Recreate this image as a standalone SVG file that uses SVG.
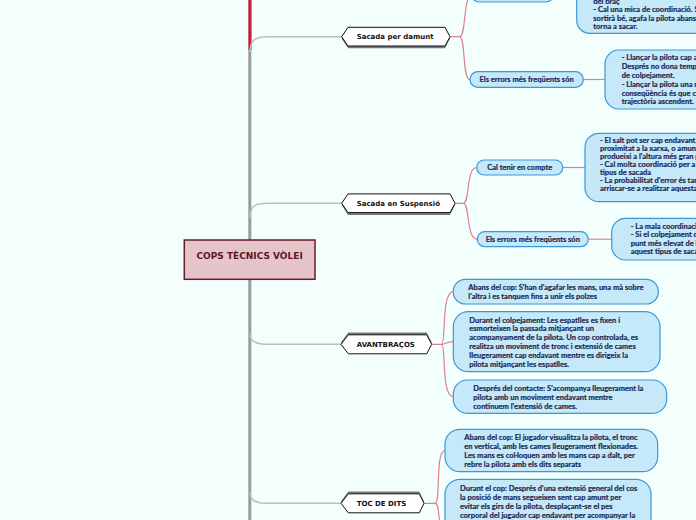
<svg xmlns="http://www.w3.org/2000/svg" width="696" height="520" viewBox="0 0 696 520">
<style>
.bg{fill:#F2FFFD}
.trunk{fill:none;stroke:#9A9A9A;stroke-width:3}
.br{fill:none;stroke:#BDBDBD;stroke-width:1.4}
.rc{fill:none;stroke:#E3808E;stroke-width:1.2}
.hexs{fill:#7A7A7A}
.hex{fill:#FFFFFF;stroke:#111;stroke-width:1}
.ht{font-family:"DejaVu Sans",Verdana,sans-serif;font-weight:bold;font-size:7px;fill:#111}
.pill{fill:#C6E9FA;stroke:#3B97D8;stroke-width:1.2}
.t{font-family:Lato,"Open Sans",sans-serif;font-weight:700;font-size:7.5px;fill:#1D2B53;stroke:#1D2B53;stroke-width:0.22}
</style>
<rect class="bg" x="0" y="0" width="696" height="520"/>
<g id="connectors">
<line x1="249.8" y1="0" x2="249.8" y2="520" class="trunk"/>
<line x1="250" y1="0" x2="250" y2="50" stroke="#D3173C" stroke-width="3"/>
<path class="br" d="M250,52 C250,40 255,36.7 268,36.7 L342,36.7"/>
<path class="br" d="M250,218 C250,206 255,203.3 268,203.3 L342,203.3"/>
<path class="br" d="M250,333 C250,341 255,344.3 268,344.3 L341,344.3"/>
<path class="br" d="M250,492 C250,500 255,503.3 268,503.3 L341,503.3"/>
<path class="rc" d="M450,36.7 L459.3,36.7 C466,36.7 463,5 470,-6"/>
<path class="rc" d="M459.3,36.7 C466,36.7 462,79.5 470,79.5"/>
<path class="rc" d="M583.3,79.5 L605,79.5"/>
<path class="rc" d="M455,203.3 L463.3,203.3 C470,203.3 466,167.5 476.7,167.5"/>
<path class="rc" d="M463.3,203.3 C470,203.3 466,239.2 477.3,239.2"/>
<path class="rc" d="M562.7,167.5 L585,167.5"/>
<path class="rc" d="M588.3,239.2 L611.7,239.2"/>
<path class="rc" d="M431.7,344.3 L441.7,344.3 C446,344.3 441,291.7 453.3,291.7"/>
<path class="rc" d="M441.7,344.3 C446,344.3 446,341.7 453.3,341.7"/>
<path class="rc" d="M441.7,344.3 C446,344.3 441,396.7 453.3,396.7"/>
<path class="rc" d="M424,503.3 L435,503.3 C441,503.3 435,450.5 445,450.5"/>
<path class="rc" d="M435,503.3 C441,503.3 436,528 445,528"/>
</g>
<g id="main">
<rect x="184.3" y="240" width="130.7" height="39.3" fill="#E5C5CA" stroke="#6A1B2A" stroke-width="1.5"/>
<text x="249.6" y="259" text-anchor="middle" font-family="'DejaVu Sans',Verdana,sans-serif" font-weight="bold" font-size="9" fill="#5E1626">COPS TÈCNICS VÒLEI</text>
</g>
<g id="sacada-damunt">
<polygon class="hexs" points="341.7,38.7 348,29.3 445,29.3 450,38.7 445,48.3 348,48.3"/>
<polygon class="hex" points="341.7,36.7 348,27.3 445,27.3 450,36.7 445,46 348,46"/>
<text class="ht" x="356.7" y="39.3">Sacada per damunt</text>
</g>
<g id="sacada-suspensio">
<polygon class="hexs" points="341.7,205.3 348,195.9 450,195.9 455,205.3 450,214.9 348,214.9"/>
<polygon class="hex" points="341.7,203.3 348,193.9 450,193.9 455,203.3 450,212.6 348,212.6"/>
<text class="ht" x="356.7" y="205.9">Sacada en Suspensió</text>
</g>
<g id="avantbracos">
<polygon class="hexs" points="341,342.3 348.3,332.6 426.7,332.6 431.7,342.3 426.7,351.8 348.3,351.8"/>
<polygon class="hex" points="341,344.3 348.3,334.8 426.7,334.8 431.7,344.3 426.7,353.8 348.3,353.8"/>
<text class="ht" x="356.7" y="346.9">AVANTBRAÇOS</text>
</g>
<g id="toc-de-dits">
<polygon class="hexs" points="341,501.3 348.3,491.6 419.3,491.6 424,501.3 419.3,510.8 348.3,510.8"/>
<polygon class="hex" points="341,503.3 348.3,493.8 419.3,493.8 424,503.3 419.3,512.8 348.3,512.8"/>
<text class="ht" x="356.7" y="505.9">TOC DE DITS</text>
</g>
<g id="top-pill">
<rect class="pill" x="471.7" y="-13" width="81.6" height="15" rx="7.5"/>
</g>
<g id="top-box">
<rect class="pill" x="576.7" y="-40" width="200" height="73.3" rx="13"/>
<text class="t" x="593.3" y="3.5">del braç</text>
<text class="t" x="593.3" y="12.4">- Cal una mica de coordinació. S</text>
<text class="t" x="593.3" y="20.9">sortirà bé, agafa la pilota abans s</text>
<text class="t" x="593.3" y="29.3">torna a sacar.</text>
</g>
<g id="errors-damunt">
<rect class="pill" x="470" y="71.7" width="113.3" height="15.6" rx="7.8"/>
<text class="t" x="526.6" y="82.1" text-anchor="middle">Els errors més freqüents són</text>
</g>
<g id="errors-damunt-box">
<rect class="pill" x="605" y="50" width="150" height="59" rx="14"/>
<text class="t" x="621.7" y="60.4">- Llançar la pilota cap a</text>
<text class="t" x="621.7" y="69.2">Després no dona temps</text>
<text class="t" x="621.7" y="78">de colpejament.</text>
<text class="t" x="621.7" y="86.8">- Llançar la pilota una m</text>
<text class="t" x="621.7" y="95.6">conseqüència és que c</text>
<text class="t" x="621.7" y="104.4">trajectòria ascendent.</text>
</g>
<g id="cal-tenir">
<rect class="pill" x="476.7" y="160" width="86" height="15" rx="7.5"/>
<text class="t" x="519.7" y="170.1" text-anchor="middle">Cal tenir en compte</text>
</g>
<g id="cal-tenir-box">
<rect class="pill" x="585" y="133.3" width="150" height="68.4" rx="14"/>
<text class="t" x="600" y="143.2">- El salt pot ser cap endavant,</text>
<text class="t" x="600" y="151.2">proximitat a la xarxa, o amun</text>
<text class="t" x="600" y="159.2">produeixi a l'altura més gran p</text>
<text class="t" x="600" y="167.2">- Cal molta coordinació per a e</text>
<text class="t" x="600" y="175.2">tipus de sacada</text>
<text class="t" x="600" y="183.2">- La probabilitat d'error és tan</text>
<text class="t" x="600" y="191.2">arriscar-se a realitzar aquesta</text>
</g>
<g id="errors-suspensio">
<rect class="pill" x="477.3" y="231.7" width="111" height="15" rx="7.5"/>
<text class="t" x="532.8" y="241.8" text-anchor="middle">Els errors més freqüents són</text>
</g>
<g id="errors-suspensio-box">
<rect class="pill" x="611.7" y="218.3" width="120" height="41.7" rx="14"/>
<text class="t" x="630.7" y="228.6">- La mala coordinaci</text>
<text class="t" x="630.7" y="237.2">- Si el colpejament d</text>
<text class="t" x="630.7" y="245.8">punt més elevat de l</text>
<text class="t" x="630.7" y="254.4">aquest tipus de saca</text>
</g>
<g id="avant-abans">
<rect class="pill" x="453.3" y="279.3" width="205" height="24.7" rx="12"/>
<text class="t" x="468.3" y="290.2">Abans del cop: S'han d'agafar les mans, una mà sobre</text>
<text class="t" x="468.3" y="299.2">l'altra i es tanquen fins a unir els polzes</text>
</g>
<g id="avant-durant">
<rect class="pill" x="453.3" y="311.7" width="206.7" height="60" rx="15"/>
<text class="t" x="469.3" y="322.5">Durant el colpejament: Les espatlles es fixen i</text>
<text class="t" x="469.3" y="331.4">esmorteixen la passada mitjançant un</text>
<text class="t" x="469.3" y="340.3">acompanyament de la pilota. Un cop controlada, es</text>
<text class="t" x="469.3" y="349.2">realitza un moviment de tronc i extensió de cames</text>
<text class="t" x="469.3" y="358.1">lleugerament cap endavant mentre es dirigeix la</text>
<text class="t" x="469.3" y="367">pilota mitjançant les espatlles.</text>
</g>
<g id="avant-despres">
<rect class="pill" x="453.3" y="380" width="213.4" height="33.3" rx="14"/>
<text class="t" x="473.3" y="390.8">Després del contacte: S'acompanya lleugerament la</text>
<text class="t" x="473.3" y="399.8">pilota amb un moviment endavant mentre</text>
<text class="t" x="473.3" y="408.8">continuem l'extensió de cames.</text>
</g>
<g id="toc-abans">
<rect class="pill" x="445" y="429.3" width="212.7" height="42.4" rx="15"/>
<text class="t" x="464.3" y="440.2">Abans del cop: El jugador visualitza la pilota, el tronc</text>
<text class="t" x="464.3" y="449.2">en vertical, amb les cames lleugerament flexionades.</text>
<text class="t" x="464.3" y="458.2">Les mans es col·loquen amb les mans cap a dalt, per</text>
<text class="t" x="464.3" y="467.2">rebre la pilota amb els dits separats</text>
</g>
<g id="toc-durant">
<rect class="pill" x="445" y="479.3" width="206" height="80" rx="15"/>
<text class="t" x="460" y="490.8">Durant el cop: Després d'una extensió general del cos</text>
<text class="t" x="460" y="499.8">la posició de mans segueixen sent cap amunt per</text>
<text class="t" x="460" y="508.6">evitar els girs de la pilota, desplaçant-se el pes</text>
<text class="t" x="460" y="517.5">corporal del jugador cap endavant per acompanyar la</text>
</g>
</svg>
